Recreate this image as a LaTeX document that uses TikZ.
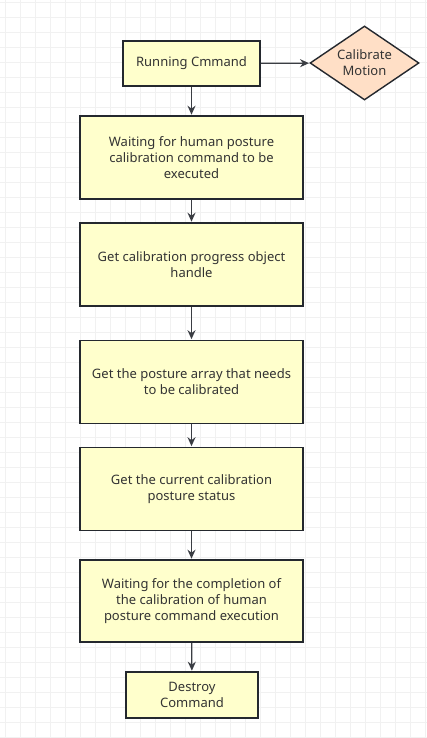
\documentclass[tikz,border=0pt]{standalone}
\usepackage{fontspec}
\setmainfont{Noto Sans}
\usetikzlibrary{positioning,arrows.meta,shapes.geometric}
\definecolor{lyell}{RGB}{255,255,204}
\definecolor{lpeach}{RGB}{255,223,198}
\definecolor{dline}{RGB}{36,40,46}
\definecolor{dtext}{RGB}{51,51,51}
\definecolor{gline}{RGB}{241,241,241}

\begin{document}
\begin{tikzpicture}[x=1pt,y=-1pt,>={Stealth[length=9pt,width=8pt]},
        font=\fontsize{13}{16}\selectfont,
        stepbox/.style={rectangle,draw=dline,fill=lyell,line width=1.6pt,text=dtext,
                        align=center,minimum width=223pt,minimum height=83pt,inner sep=2pt},
        endbox/.style={stepbox,minimum width=132pt,minimum height=46pt},
        choice/.style={diamond,draw=dline,fill=lpeach,line width=1.4pt,text=dtext,align=center,
                       aspect=1.47,minimum width=109pt,minimum height=74pt,inner sep=0pt},
        flow/.style={->,draw=dline!90,line width=1.3pt,shorten >=0.5pt},
        gridln/.style={draw=gline,line width=0.7pt}]
        \useasboundingbox (0,0) rectangle (427,738);
        \fill[white] (0,0) rectangle (427,738);
        \foreach \gx in {5,20,...,425}{\draw[gridln](\gx,0)--(\gx,738);}
        \foreach \gy in {2,17,...,737}{\draw[gridln](0,\gy)--(427,\gy);}
        \node[stepbox,minimum width=137pt,minimum height=45pt](run) at (191.5,63.5){Running Cmmand};
        \node[choice](calib) at (364.5,63){Calibrate\\Motion};
        \node[stepbox](s1) at (191.5,157.5){Waiting for human posture\\calibration command to be\\executed};
        \node[stepbox](s2) at (191.5,264.5){Get calibration progress object\\handle};
        \node[stepbox](s3) at (191.5,382){Get the posture array that needs\\to be calibrated};
        \node[stepbox](s4) at (191.5,489){Get the current calibration\\posture status};
        \node[stepbox,minimum height=82pt](s5) at (191.5,601){Waiting for the completion of\\the calibration of human\\posture command execution};
        \node[endbox](fin) at (192,695){Destroy\\Command};
        \draw[flow](run)--(calib);
        \foreach \a/\b in {run/s1,s1/s2,s2/s3,s3/s4,s4/s5,s5/fin}{\draw[flow](\a)--(\b);}
      \end{tikzpicture}
\end{document}
